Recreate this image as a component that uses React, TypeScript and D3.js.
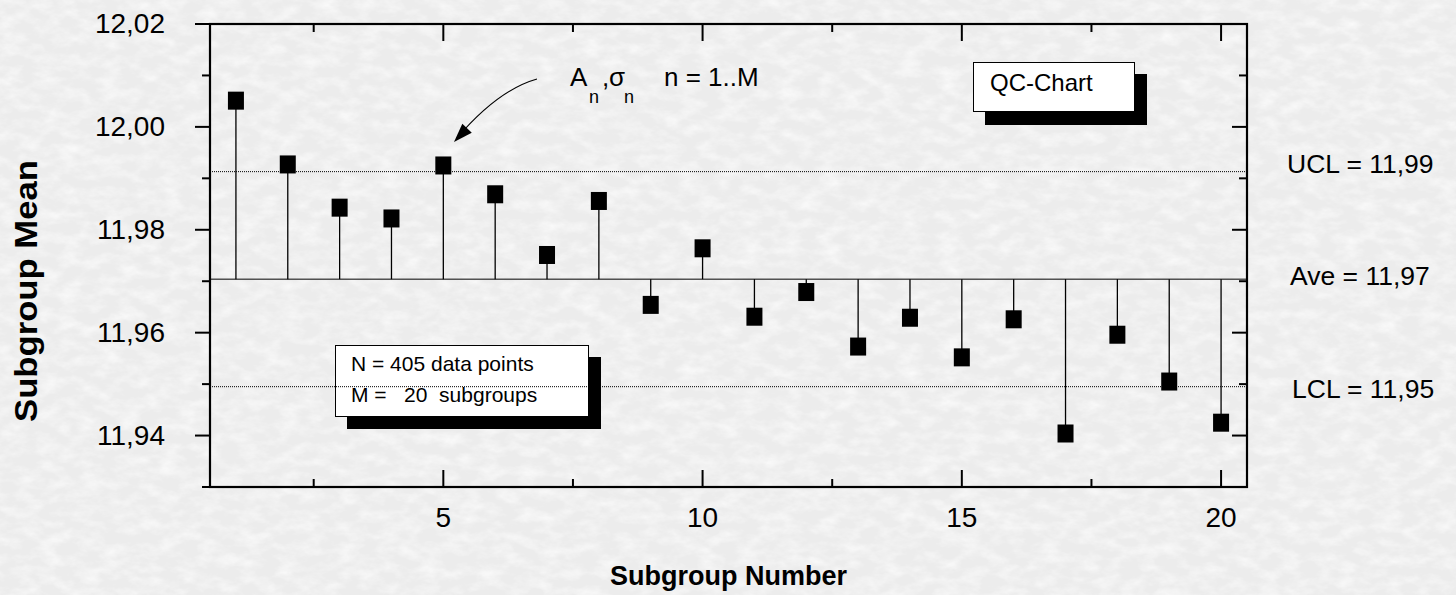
import React from "react";
import * as d3 from "d3";

const subgroups = [1, 2, 3, 4, 5, 6, 7, 8, 9, 10, 11, 12, 13, 14, 15, 16, 17, 18, 19, 20];
const means = [
  12.0051, 11.9927, 11.9843, 11.9822, 11.9925, 11.9869, 11.9751, 11.9856, 11.9654, 11.9764,
  11.9631, 11.9679, 11.9573, 11.9629, 11.9552, 11.9626, 11.9404, 11.9596, 11.9505, 11.9425,
];
const aveValue = 11.9704;
const uclValue = 11.9913;
const lclValue = 11.9495;
const yMajorTicks = [11.94, 11.96, 11.98, 12.0, 12.02];
const yMinorTicks = [11.93, 11.95, 11.97, 11.99, 12.01];
const xMajorTicks = [5, 10, 15, 20];
const xMinorTicks = [2.5, 7.5, 12.5, 17.5];
const limitLabels = ["UCL = 11,99", "Ave = 11,97", "LCL = 11,95"];
const infoLines = ["N = 405 data points", "M =   20  subgroups"];

const W = 1456;
const H = 595;
const FONT = "'Liberation Sans', Arial, Helvetica, sans-serif";

const locale = d3.formatLocale({ decimal: ",", thousands: ".", grouping: [3], currency: ["", ""] });
const fmt = locale.format(".2f");

export default function App() {
  const x = d3.scaleLinear().domain([0.5, 20.5]).range([210, 1247]);
  const y = d3.scaleLinear().domain([11.93, 12.02]).range([487, 24]);
  const [x0, x1] = x.range();
  const [yb, yt] = y.range();
  const yAve = y(aveValue);

  // arrow geometry
  const p0: [number, number] = [537, 79];
  const c: [number, number] = [498, 90];
  const p2: [number, number] = [457, 138];
  const arrowPath = d3.path();
  arrowPath.moveTo(p0[0], p0[1]);
  arrowPath.quadraticCurveTo(c[0], c[1], p2[0], p2[1]);
  const tip: [number, number] = [454, 142];
  const ang = Math.atan2(tip[1] - 124, tip[0] - 471);
  const hl = 19, hw = 6.5;
  const bx = tip[0] - hl * Math.cos(ang), by = tip[1] - hl * Math.sin(ang);
  const head = `M${tip[0]},${tip[1]} L${bx + hw * Math.sin(ang)},${by - hw * Math.cos(ang)} L${bx - hw * Math.sin(ang)},${by + hw * Math.cos(ang)} Z`;

  return (
    <svg width={W} height={H} style={{ position: "absolute", left: 0, top: 0, display: "block" }} fontFamily={FONT}>
      <defs>
        <filter id="tex" x="0" y="0" width={W} height={H} filterUnits="userSpaceOnUse">
          <feTurbulence type="fractalNoise" baseFrequency="0.05 0.09" numOctaves="4" seed="7" />
          <feColorMatrix type="matrix" values="0 0 0 0 1  0 0 0 0 1  0 0 0 0 1  1.3 0 0 0 -0.5" />
        </filter>
      </defs>
      <rect x={0} y={0} width={W} height={H} fill="#ececec" />
      <rect x={0} y={0} width={W} height={H} filter="url(#tex)" />

      {/* control lines */}
      <line x1={x0} x2={x1} y1={y(uclValue)} y2={y(uclValue)} stroke="#000" strokeWidth={1} strokeDasharray="1 1" />
      <line x1={x0} x2={x1} y1={yAve} y2={yAve} stroke="#000" strokeWidth={1} />

      {/* stems */}
      {subgroups.map((s, i) => (
        <line key={"st" + s} x1={x(s)} x2={x(s)} y1={yAve} y2={y(means[i])} stroke="#000" strokeWidth={1.3} />
      ))}
      {/* markers */}
      {subgroups.map((s, i) => (
        <rect key={"pt" + s} x={x(s) - 8} y={y(means[i]) - 9} width={16} height={18} fill="#000" />
      ))}

      {/* info box */}
      <rect x={347} y={357} width={254} height={72} fill="#000" />
      <rect x={335.5} y={345.5} width={253} height={71} fill="#fff" stroke="#000" strokeWidth={1} />
      {infoLines.map((t, i) => (
        <text key={t} x={351} y={371 + i * 31} fontSize={21} fill="#000" style={{ whiteSpace: "pre" }}>
          {t}
        </text>
      ))}
      <line x1={x0} x2={x1} y1={y(lclValue)} y2={y(lclValue)} stroke="#000" strokeWidth={1} strokeDasharray="1 1" />

      {/* QC box */}
      <rect x={985} y={74} width={162} height={51} fill="#000" />
      <rect x={973.5} y={62.5} width={161} height={49} fill="#fff" stroke="#000" strokeWidth={1} />
      <text x={990} y={91} fontSize={24} fill="#000">QC-Chart</text>

      {/* annotation */}
      <text x={570} y={86} fontSize={26} fill="#000">A</text>
      <text x={589} y={103} fontSize={18} fill="#000">n</text>
      <text x={602} y={86} fontSize={26} fill="#000">,</text>
      <text x={609} y={86} fontSize={26} fill="#000">σ</text>
      <text x={624} y={103} fontSize={18} fill="#000">n</text>
      <text x={664} y={86} fontSize={26} fill="#000">n = 1..M</text>
      <path d={arrowPath.toString()} fill="none" stroke="#000" strokeWidth={1.2} />
      <path d={head} fill="#000" />

      {/* frame */}
      <rect x={x0} y={yt} width={x1 - x0} height={yb - yt} fill="none" stroke="#000" strokeWidth={2.2} />

      {/* left ticks (outward) */}
      {yMajorTicks.map((v) => (
        <line key={"lM" + v} x1={x0 - 15} x2={x0} y1={y(v)} y2={y(v)} stroke="#000" strokeWidth={2} />
      ))}
      {yMinorTicks.map((v) => (
        <line key={"lm" + v} x1={x0 - 8} x2={x0} y1={y(v)} y2={y(v)} stroke="#000" strokeWidth={2} />
      ))}
      {/* right ticks (inward) */}
      {yMajorTicks.map((v) => (
        <line key={"rM" + v} x1={x1 - 15} x2={x1} y1={y(v)} y2={y(v)} stroke="#000" strokeWidth={2} />
      ))}
      {yMinorTicks.map((v) => (
        <line key={"rm" + v} x1={x1 - 8} x2={x1} y1={y(v)} y2={y(v)} stroke="#000" strokeWidth={2} />
      ))}
      {/* bottom & top ticks (inward) */}
      {xMajorTicks.map((v) => (
        <g key={"xM" + v}>
          <line x1={x(v)} x2={x(v)} y1={yb} y2={yb - 17} stroke="#000" strokeWidth={2} />
          <line x1={x(v)} x2={x(v)} y1={yt} y2={yt + 17} stroke="#000" strokeWidth={2} />
        </g>
      ))}
      {xMinorTicks.map((v) => (
        <g key={"xm" + v}>
          <line x1={x(v)} x2={x(v)} y1={yb} y2={yb - 8} stroke="#000" strokeWidth={2} />
          <line x1={x(v)} x2={x(v)} y1={yt} y2={yt + 8} stroke="#000" strokeWidth={2} />
        </g>
      ))}

      {/* tick labels */}
      {yMajorTicks.map((v) => (
        <text key={"yl" + v} x={165} y={y(v) + 9} fontSize={28} textAnchor="end" fill="#000">
          {fmt(v)}
        </text>
      ))}
      {xMajorTicks.map((v) => (
        <text key={"xl" + v} x={x(v)} y={527} fontSize={28} textAnchor="middle" fill="#000">
          {v}
        </text>
      ))}

      {/* limit labels */}
      <text x={1287} y={173} fontSize={26.5} fill="#000">{limitLabels[0]}</text>
      <text x={1290} y={285} fontSize={26.5} fill="#000">{limitLabels[1]}</text>
      <text x={1292} y={398} fontSize={26.5} fill="#000">{limitLabels[2]}</text>

      {/* axis titles */}
      <text x={(x0 + x1) / 2} y={585} fontSize={27} fontWeight="bold" textAnchor="middle" fill="#000">
        Subgroup Number
      </text>
      <text transform="translate(37,422) rotate(-90)" x={0} y={0} fontSize={32} fontWeight="bold" fill="#000"
        textLength={262} lengthAdjust="spacingAndGlyphs">
        Subgroup Mean
      </text>
    </svg>
  );
}
